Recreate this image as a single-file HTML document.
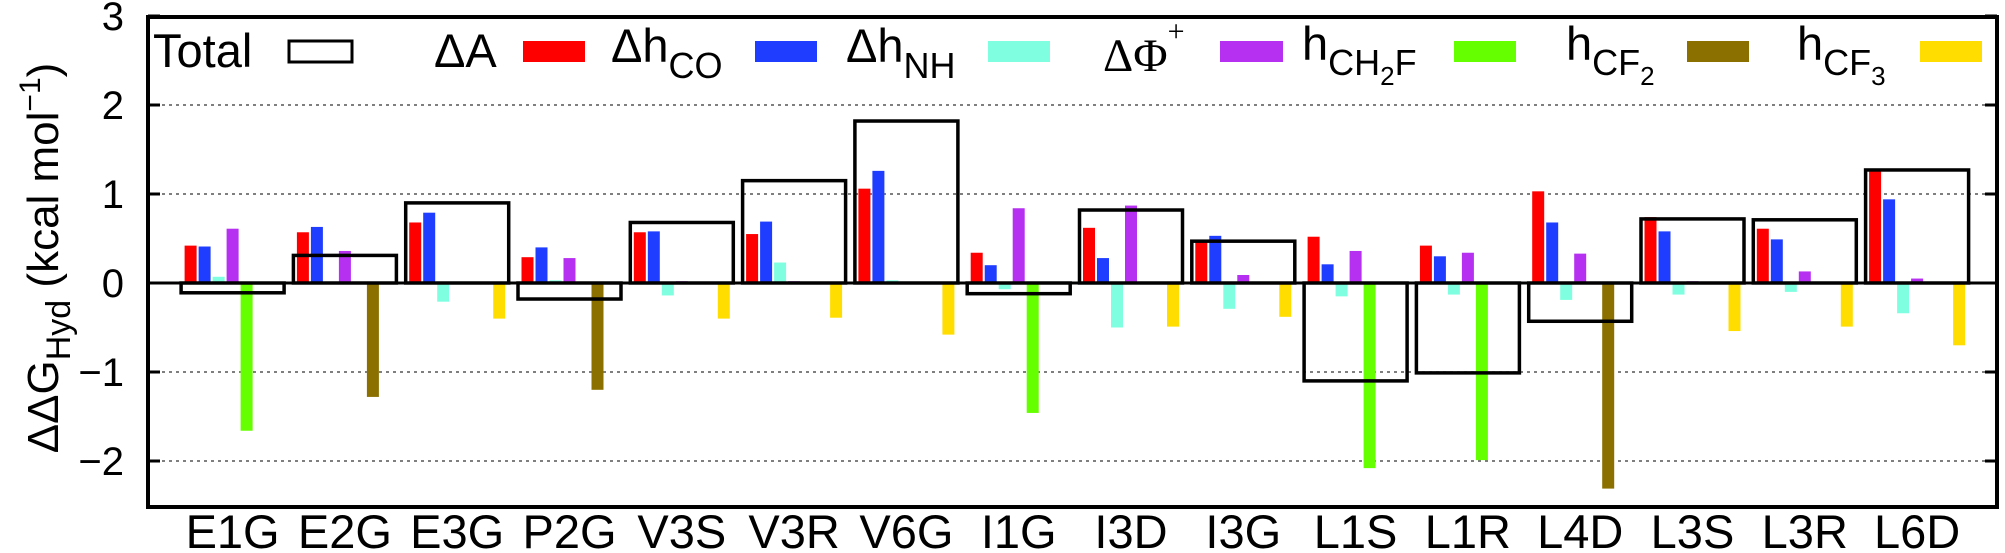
<!DOCTYPE html>
<html><head><meta charset="utf-8">
<style>
html,body{margin:0;padding:0;background:#fff;}
svg{display:block;font-family:"Liberation Sans",sans-serif;}
</style></head>
<body>
<svg id="chart" width="2005" height="553" viewBox="0 0 2005 553" xmlns="http://www.w3.org/2000/svg"></svg>
<script>
const categories = ["E1G","E2G","E3G","P2G","V3S","V3R","V6G","I1G","I3D","I3G","L1S","L1R","L4D","L3S","L3R","L6D"];
const total   = [-0.11,0.31,0.90,-0.18,0.68,1.15,1.82,-0.12,0.82,0.47,-1.10,-1.01,-0.43,0.72,0.71,1.27];
const dA      = [0.42,0.57,0.68,0.29,0.57,0.55,1.06,0.34,0.62,0.48,0.52,0.42,1.03,0.74,0.61,1.27];
const dhCO    = [0.41,0.63,0.79,0.40,0.58,0.69,1.26,0.20,0.28,0.53,0.21,0.30,0.68,0.58,0.49,0.94];
const dhNH    = [0.07,0,-0.21,0.03,-0.14,0.23,0.03,-0.07,-0.50,-0.29,-0.15,-0.13,-0.19,-0.13,-0.10,-0.34];
const dPhi    = [0.61,0.36,0,0.28,0.02,0.02,0,0.84,0.87,0.09,0.36,0.34,0.33,0.02,0.13,0.05];
const hCH2F   = [-1.66,0,0,0,0,0,0,-1.46,0,0,-2.08,-1.99,0,0,0,0];
const hCF2    = [0,-1.28,0,-1.20,0,0,0,0,0,0,0,0,-2.31,0,0,0];
const hCF3    = [0,0,-0.40,0,-0.40,-0.39,-0.58,0,-0.49,-0.38,0,0,0,-0.54,-0.49,-0.70];
const yTicks  = [3,2,1,0,-1,-2];
const yTickLabels = ["3","2","1","0","\u22122","\u22122".replace("2","2")];
yTickLabels[4] = "\u22121"; yTickLabels[5] = "\u22122";

const svg = document.getElementById('chart');
const NS = "http://www.w3.org/2000/svg";
const L = 148, R = 1997, T = 17, B = 507;
const Y0 = 283, PPU = 89;
const yScale = v => Y0 - v * PPU;
const xCenter = i => 232.6 + i * 112.3;
function mk(tag, attrs, parent){ const e=document.createElementNS(NS,tag); for(const k in attrs) e.setAttribute(k,attrs[k]); (parent||svg).appendChild(e); return e; }

// grid
yTicks.forEach((t,i)=>{
  if(t!==0 && t!==3){
    const g = mk('line',{x1:L,x2:R,y1:yScale(t),y2:yScale(t),stroke:'#333','stroke-width':1.3,'stroke-dasharray':'3,4'});
    
    
  }
  const tl = mk('line',{x1:L,x2:L+12,y1:yScale(t),y2:yScale(t),stroke:'#000','stroke-width':3});
  
  
  const tr = mk('line',{x1:R-12,x2:R,y1:yScale(t),y2:yScale(t),stroke:'#000','stroke-width':3});
  
  
  const lab = mk('text',{x:124,y:yScale(t)+14,'text-anchor':'end','font-size':40});
  lab.textContent = yTickLabels[i];
  
  
});

const series = [
  {vals:dA, color:'#ff0000', off:-42, name:'bar-delta-a'},
  {vals:dhCO, color:'#1f3dff', off:-28, name:'bar-delta-h-co'},
  {vals:dhNH, color:'#7fffe0', off:-14, name:'bar-delta-h-nh'},
  {vals:dPhi, color:'#b530f0', off:0, name:'bar-delta-phi'},
  {vals:hCH2F, color:'#66ff00', off:14, name:'bar-h-ch2f'},
  {vals:hCF2, color:'#8b7000', off:28, name:'bar-h-cf2'},
  {vals:hCF3, color:'#ffdd00', off:42, name:'bar-h-cf3'}
];
series.forEach(s=>{
  s.vals.forEach((v,i)=>{
    if(v===0) return;
    const y1 = Math.min(yScale(v),Y0), h = Math.abs(yScale(v)-Y0);
    const r = mk('rect',{x:xCenter(i)+s.off-6,y:y1,width:12,height:h,fill:s.color});
    
    
  });
});
total.forEach((v,i)=>{
  const y1 = Math.min(yScale(v),Y0), h = Math.abs(yScale(v)-Y0);
  const r = mk('rect',{x:xCenter(i)-51.5,y:y1,width:103,height:h,fill:'none',stroke:'#000','stroke-width':3.5});
  
  
});
// zero line
const z = mk('line',{x1:L,x2:R,y1:Y0,y2:Y0,stroke:'#000','stroke-width':3});


// categories
categories.forEach((c,i)=>{
  const t = mk('text',{x:xCenter(i),y:548,'text-anchor':'middle','font-size':47});
  t.textContent = c;
  
  
});
// frame
const f = mk('rect',{x:L,y:T,width:R-L,height:B-T,fill:'none',stroke:'#000','stroke-width':4});


</script>
<svg style="position:absolute;left:0;top:0" width="2005" height="553" font-family="Liberation Sans, sans-serif">
  <g font-size="47">
    <text x="153" y="67">Total</text>
    <rect x="289" y="41" width="63" height="21" fill="none" stroke="#000" stroke-width="3"/>
    <text x="434" y="67">ΔA</text>
    <rect x="523" y="41" width="62" height="21" fill="#ff0000"/>
    <text x="611" y="62">Δh<tspan font-size="36" dy="16">CO</tspan></text>
    <rect x="755" y="41" width="62" height="21" fill="#1f3dff"/>
    <text x="846" y="62">Δh<tspan font-size="36" dy="16">NH</tspan></text>
    <rect x="988" y="41" width="62" height="21" fill="#7fffe0"/>
    <text x="1103" y="71" font-family="Liberation Serif, serif">ΔΦ<tspan font-size="30" dy="-30">+</tspan></text>
    <rect x="1220" y="41" width="63" height="21" fill="#b530f0"/>
    <text x="1302" y="60">h<tspan font-size="36" dy="15">CH</tspan><tspan font-size="26" dy="10">2</tspan><tspan font-size="36" dy="-10">F</tspan></text>
    <rect x="1454" y="41" width="62" height="21" fill="#66ff00"/>
    <text x="1566" y="60">h<tspan font-size="36" dy="15">CF</tspan><tspan font-size="26" dy="10">2</tspan></text>
    <rect x="1687" y="41" width="62" height="21" fill="#8b7000"/>
    <text x="1797" y="60">h<tspan font-size="36" dy="15">CF</tspan><tspan font-size="26" dy="10">3</tspan></text>
    <rect x="1920" y="41" width="62" height="21" fill="#ffdd00"/>
  </g>
  <text transform="translate(58,258) rotate(-90)" text-anchor="middle" font-size="44">ΔΔG<tspan font-size="34" dy="12">Hyd</tspan><tspan dy="-12"> (kcal mol</tspan><tspan font-size="30" dy="-18">−1</tspan><tspan dy="18">)</tspan></text>
</svg>
</body></html>
